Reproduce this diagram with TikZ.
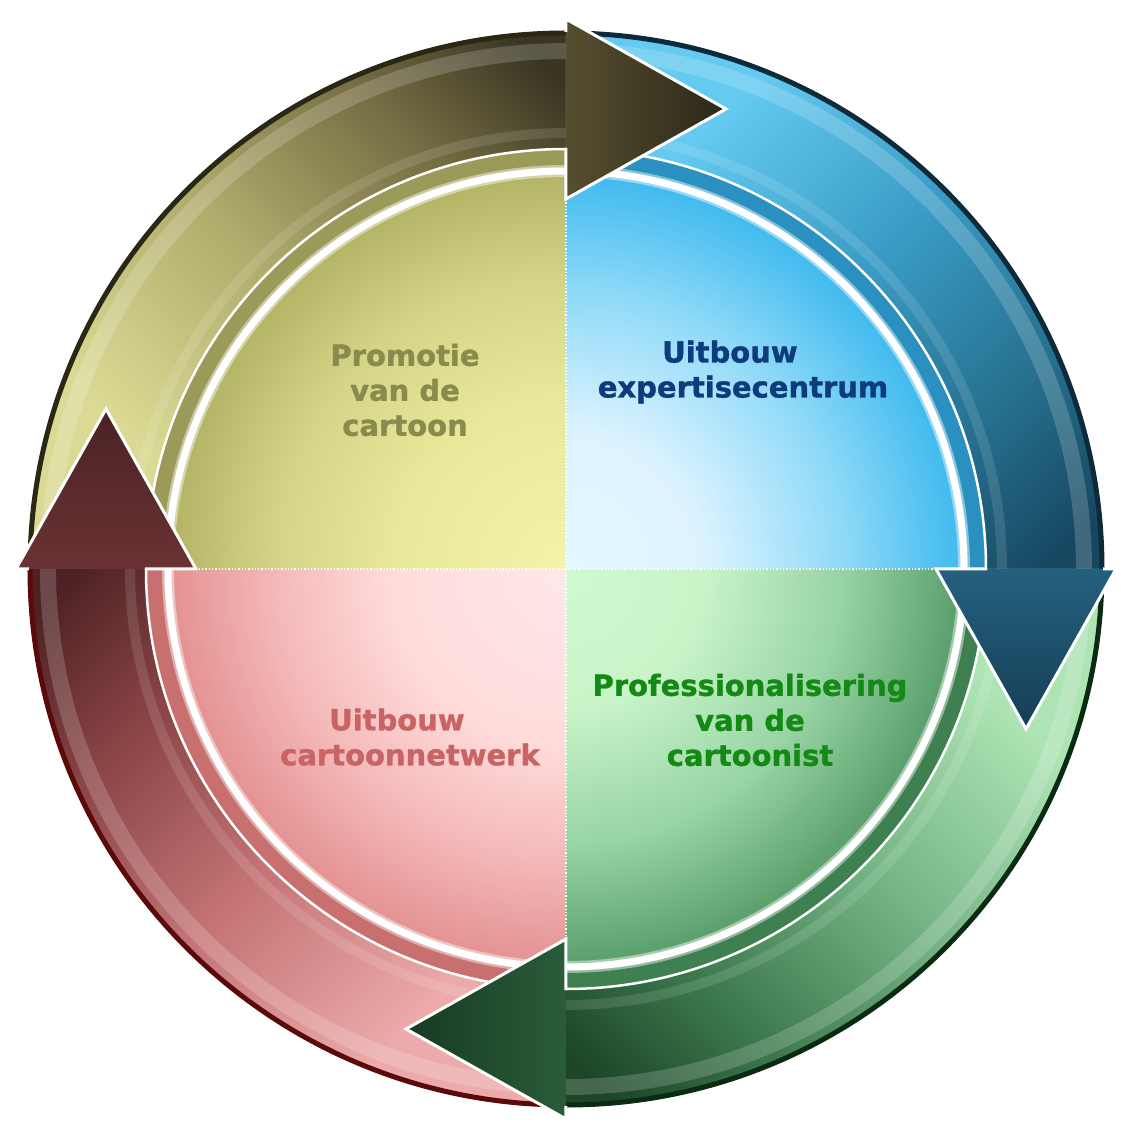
\documentclass[tikz,border=0pt]{standalone}
\usepackage{fontspec}
\setmainfont[BoldFeatures={FakeBold=1.2}]{DejaVu Sans}
% olive
\definecolor{olL}{HTML}{DADA94}
\definecolor{olM}{HTML}{B0AC6C}
\definecolor{olM2}{HTML}{766E44}
\definecolor{olD}{HTML}{3A3522}
\definecolor{olRim}{HTML}{2A2814}
\definecolor{olIn}{HTML}{F4F4AA}
\definecolor{olIn2}{HTML}{E8E89A}
\definecolor{olIn3}{HTML}{D4D488}
\definecolor{olOut}{HTML}{B4B466}
\definecolor{olStrip}{HTML}{9C9A58}
\definecolor{olH1}{HTML}{564E30}
\definecolor{olH2}{HTML}{2C2818}
\definecolor{olText}{HTML}{8A8A4E}
% blue
\definecolor{bL}{HTML}{64CAF0}
\definecolor{bM}{HTML}{3A9CC6}
\definecolor{bM2}{HTML}{26708E}
\definecolor{bD}{HTML}{164660}
\definecolor{bRim}{HTML}{0C2A3A}
\definecolor{bIn}{HTML}{E4F7FF}
\definecolor{bIn2}{HTML}{DCF3FF}
\definecolor{bIn3}{HTML}{90DAF8}
\definecolor{bOut}{HTML}{40BAEE}
\definecolor{bStrip}{HTML}{2A90C0}
\definecolor{bH1}{HTML}{24607E}
\definecolor{bH2}{HTML}{163E56}
\definecolor{bText}{HTML}{0D3B7C}
% green
\definecolor{gL}{HTML}{AEE4B4}
\definecolor{gM}{HTML}{74B484}
\definecolor{gM2}{HTML}{3E7A4E}
\definecolor{gD}{HTML}{1C4628}
\definecolor{gRim}{HTML}{0A2A12}
\definecolor{gIn}{HTML}{D0FAD0}
\definecolor{gIn2}{HTML}{C8F4C8}
\definecolor{gIn3}{HTML}{98D4A4}
\definecolor{gOut}{HTML}{5A9E6C}
\definecolor{gStrip}{HTML}{3E8050}
\definecolor{gH1}{HTML}{2A5C3A}
\definecolor{gH2}{HTML}{173A22}
\definecolor{gText}{HTML}{138A14}
% red
\definecolor{rL}{HTML}{ECAAAA}
\definecolor{rM}{HTML}{C47474}
\definecolor{rM2}{HTML}{8A4446}
\definecolor{rD}{HTML}{4E2224}
\definecolor{rRim}{HTML}{5A0A0A}
\definecolor{rIn}{HTML}{FFE8E8}
\definecolor{rIn2}{HTML}{FFDCDC}
\definecolor{rIn3}{HTML}{F4B8B8}
\definecolor{rOut}{HTML}{E49292}
\definecolor{rStrip}{HTML}{C87070}
\definecolor{rH1}{HTML}{6A3234}
\definecolor{rH2}{HTML}{4A2224}
\definecolor{rText}{HTML}{C86464}
% band shadings (bottom = light, top = dark)
\pgfdeclareverticalshading{olBand}{100bp}{color(0bp)=(olL); color(30bp)=(olL); color(50bp)=(olM); color(68bp)=(olM2); color(82bp)=(olD); color(100bp)=(olD)}
\pgfdeclareverticalshading{bBand}{100bp}{color(0bp)=(bL); color(30bp)=(bL); color(50bp)=(bM); color(68bp)=(bM2); color(82bp)=(bD); color(100bp)=(bD)}
\pgfdeclareverticalshading{gBand}{100bp}{color(0bp)=(gL); color(30bp)=(gL); color(50bp)=(gM); color(68bp)=(gM2); color(82bp)=(gD); color(100bp)=(gD)}
\pgfdeclareverticalshading{rBand}{100bp}{color(0bp)=(rL); color(30bp)=(rL); color(50bp)=(rM); color(68bp)=(rM2); color(82bp)=(rD); color(100bp)=(rD)}
% disc shadings
\pgfdeclareradialshading{olDisc}{\pgfpoint{0bp}{0bp}}{color(0bp)=(olIn); color(10bp)=(olIn2); color(17bp)=(olIn3); color(23bp)=(olOut); color(50bp)=(olOut)}
\pgfdeclareradialshading{bDisc}{\pgfpoint{0bp}{0bp}}{color(0bp)=(bIn); color(8bp)=(bIn2); color(16bp)=(bIn3); color(23bp)=(bOut); color(50bp)=(bOut)}
\pgfdeclareradialshading{gDisc}{\pgfpoint{0bp}{0bp}}{color(0bp)=(gIn); color(8bp)=(gIn2); color(16bp)=(gIn3); color(23bp)=(gOut); color(50bp)=(gOut)}
\pgfdeclareradialshading{rDisc}{\pgfpoint{0bp}{0bp}}{color(0bp)=(rIn); color(10bp)=(rIn2); color(17bp)=(rIn3); color(23bp)=(rOut); color(50bp)=(rOut)}
\tikzset{
  lbl/.style={font=\fontsize{29}{35}\selectfont\bfseries, align=center, inner sep=0pt},
  headedge/.style={white, line width=3pt, line join=miter},
  rimline/.style={line width=5pt},
  gloss/.style={white, opacity=0.18, line width=16pt},
  glossin/.style={white, opacity=0.12, line width=10pt},
  discring/.style={white, line width=7pt},
  discglow/.style={white, opacity=0.45, line width=12pt},
  bandedge/.style={white, line width=2.5pt},
  divider/.style={white, dotted, line width=1.3pt}
}
\begin{document}
\begin{tikzpicture}[x=1pt,y=1pt]
\useasboundingbox (-566,-555) rectangle (554,569);
\fill[white] (-566,-555) rectangle (554,569);

% ---------- inner discs ----------
\begin{scope}
  \clip (0,0) -- (0,420) arc[start angle=90,end angle=180,radius=420] -- cycle;
  \shade[shading=olDisc] (0,0) circle[radius=430];
  \fill[olStrip, even odd rule] (0,0) circle[radius=420] (0,0) circle[radius=402];
\end{scope}
\begin{scope}
  \clip (0,0) -- (420,0) arc[start angle=0,end angle=90,radius=420] -- cycle;
  \shade[shading=bDisc] (0,0) circle[radius=430];
  \fill[bStrip, even odd rule] (0,0) circle[radius=420] (0,0) circle[radius=402];
\end{scope}
\begin{scope}
  \clip (0,0) -- (0,-420) arc[start angle=-90,end angle=0,radius=420] -- cycle;
  \shade[shading=gDisc] (0,0) circle[radius=430];
  \fill[gStrip, even odd rule] (0,0) circle[radius=420] (0,0) circle[radius=402];
\end{scope}
\begin{scope}
  \clip (0,0) -- (-420,0) arc[start angle=180,end angle=270,radius=420] -- cycle;
  \shade[shading=rDisc] (0,0) circle[radius=430];
  \fill[rStrip, even odd rule] (0,0) circle[radius=420] (0,0) circle[radius=402];
\end{scope}
\draw[discglow] (0,0) circle[radius=398];
\draw[discring] (0,0) circle[radius=398];

% ---------- ring bands ----------
\shade[shading=olBand, shading angle=-45]
  (180:538) arc[start angle=180,end angle=90,radius=538] -- (90:420)
  arc[start angle=90,end angle=180,radius=420] -- cycle;
\shade[shading=bBand, shading angle=-135]
  (90:538) arc[start angle=90,end angle=0,radius=538] -- (0:420)
  arc[start angle=0,end angle=90,radius=420] -- cycle;
\shade[shading=gBand, shading angle=135]
  (0:538) arc[start angle=0,end angle=-90,radius=538] -- (-90:420)
  arc[start angle=-90,end angle=0,radius=420] -- cycle;
\shade[shading=rBand, shading angle=45]
  (-90:538) arc[start angle=-90,end angle=-180,radius=538] -- (180:420)
  arc[start angle=180,end angle=270,radius=420] -- cycle;

% gloss on bands
\draw[gloss] (0,0) circle[radius=518];
\draw[glossin] (0,0) circle[radius=436];

% outer rims
\draw[rimline, olRim] (180:536) arc[start angle=180,end angle=90,radius=536];
\draw[rimline, bRim] (90:536) arc[start angle=90,end angle=0,radius=536];
\draw[rimline, gRim] (0:536) arc[start angle=0,end angle=-90,radius=536];
\draw[rimline, rRim] (-90:536) arc[start angle=-90,end angle=-180,radius=536];

% inner white edge of bands
\draw[bandedge] (0,0) circle[radius=420];

% quadrant dividers
\draw[divider] (0,-420) -- (0,420);
\draw[divider] (-420,0) -- (420,0);

% ---------- arrow heads ----------
\shade[left color=olH1, right color=olH2] (0,550) -- (160,460) -- (0,370) -- cycle;
\draw[headedge] (0,537) -- (0,550) -- (160,460) -- (0,370) -- (0,421);

\shade[top color=bH1, bottom color=bH2] (370,0) -- (550,0) -- (460,-160) -- cycle;
\draw[headedge] (537,0) -- (550,0) -- (460,-160) -- (370,0) -- (421,0);

\shade[right color=gH1, left color=gH2] (0,-550) -- (-160,-460) -- (0,-370) -- cycle;
\draw[headedge] (0,-537) -- (0,-550) -- (-160,-460) -- (0,-370) -- (0,-421);

\shade[bottom color=rH1, top color=rH2] (-550,0) -- (-460,160) -- (-370,0) -- cycle;
\draw[headedge] (-537,0) -- (-550,0) -- (-460,160) -- (-370,0) -- (-421,0);

% ---------- labels ----------
\node[lbl, text=olText] (promo) at (-161,179) {Promotie\\van de\\cartoon};
\node[lbl, text=bText] (expert) at (177,197) {Uitbouw\hspace*{0.9em}\\expertisecentrum};
\node[lbl, text=gText] (prof) at (184,-151) {Professionalisering\\van de\\cartoonist};
\node[lbl, text=rText] (netw) at (-156,-168) {Uitbouw\hspace*{0.9em}\\cartoonnetwerk};
\end{tikzpicture}
\end{document}
